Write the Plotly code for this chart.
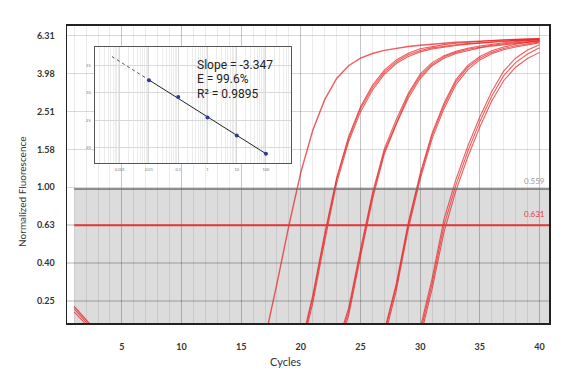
import plotly.graph_objects as go

# ---------------- data ----------------
cycles = list(range(1, 41))

# early baselines (cycle 1 ...), several replicates start slightly above the axis floor
baseline_a = [0.235, 0.2, 0.17, 0.155, 0.15, 0.147, 0.145, 0.144, 0.143, 0.142, 0.142, 0.141, 0.141, 0.14, 0.14,
              0.14, 0.139, 0.139, 0.138, 0.138, 0.137, 0.137, 0.136, 0.136, 0.135, 0.135, 0.134, 0.134, 0.133]
baseline_b = [0.228, 0.196, 0.166, 0.152, 0.147, 0.145, 0.144, 0.143, 0.142, 0.142, 0.141, 0.141, 0.14, 0.14, 0.14,
              0.139, 0.139, 0.138, 0.138, 0.137, 0.137, 0.136, 0.136, 0.135, 0.135, 0.134, 0.134, 0.133, 0.133]
baseline_c = [0.22, 0.19, 0.162, 0.15, 0.145, 0.143, 0.142, 0.141, 0.141, 0.14, 0.14, 0.139, 0.139, 0.139, 0.138,
              0.138, 0.137, 0.137, 0.137, 0.136, 0.136, 0.135, 0.135, 0.134, 0.134, 0.133, 0.133, 0.132, 0.132]
baseline_d = [0.18, 0.16, 0.15, 0.145, 0.142, 0.14, 0.139, 0.138, 0.138, 0.137, 0.137, 0.136, 0.136, 0.136, 0.135,
              0.135, 0.135, 0.134, 0.134, 0.133, 0.133, 0.132, 0.132, 0.131, 0.131, 0.13, 0.13, 0.129, 0.129]

# amplification phase of each replicate (start cycle, values to cycle 40)
g1a_start, g1a = 17, [0.16, 0.31, 0.63, 1.2, 2.0, 2.9, 3.75, 4.38, 4.8, 5.08, 5.28, 5.42, 5.53, 5.62, 5.7, 5.77,
                      5.82, 5.87, 5.91, 5.95, 5.99, 6.02, 6.05, 6.08]
g2a_start, g2a = 20, [0.14, 0.26, 0.55, 1.1, 1.8, 2.6, 3.35, 4.05, 4.6, 5.0, 5.27, 5.44, 5.56, 5.65, 5.73, 5.8,
                      5.86, 5.91, 5.96, 6.0, 6.03]
g2b_start, g2b = 20, [0.135, 0.245, 0.52, 1.05, 1.74, 2.5, 3.25, 3.95, 4.5, 4.9, 5.18, 5.37, 5.5, 5.6, 5.69, 5.77,
                      5.83, 5.88, 5.93, 5.97, 6.0]
g2c_start, g2c = 20, [0.145, 0.27, 0.57, 1.12, 1.85, 2.66, 3.45, 4.15, 4.7, 5.1, 5.38, 5.54, 5.66, 5.75, 5.83, 5.9,
                      5.95, 6.0, 6.04, 6.07, 6.1]
g3a_start, g3a = 23, [0.14, 0.22, 0.45, 0.9, 1.55, 2.2, 3.05, 3.85, 4.45, 4.88, 5.15, 5.35, 5.5, 5.62, 5.72, 5.8,
                      5.87, 5.93]
g3b_start, g3b = 23, [0.13, 0.21, 0.43, 0.86, 1.5, 2.15, 2.95, 3.75, 4.38, 4.8, 5.08, 5.28, 5.44, 5.56, 5.66, 5.75,
                      5.82, 5.88]
g3c_start, g3c = 23, [0.145, 0.23, 0.47, 0.93, 1.6, 2.28, 3.12, 3.95, 4.55, 4.95, 5.22, 5.42, 5.57, 5.69, 5.79,
                      5.87, 5.94, 6.0]
g4a_start, g4a = 27, [0.17, 0.3, 0.63, 1.15, 1.88, 2.7, 3.6, 4.3, 4.8, 5.15, 5.4, 5.58, 5.72, 5.85]
g4b_start, g4b = 27, [0.16, 0.285, 0.6, 1.1, 1.8, 2.6, 3.48, 4.18, 4.7, 5.06, 5.32, 5.5, 5.65, 5.78]
g4c_start, g4c = 27, [0.175, 0.31, 0.65, 1.18, 1.93, 2.78, 3.7, 4.4, 4.9, 5.25, 5.5, 5.68, 5.82, 5.95]
g5a_start, g5a = 30, [0.18, 0.33, 0.68, 1.1, 1.65, 2.35, 3.2, 4.1, 4.8, 5.3, 5.65]
g5b_start, g5b = 30, [0.17, 0.31, 0.63, 1.03, 1.55, 2.22, 3.02, 3.88, 4.55, 5.05, 5.45]
g5c_start, g5c = 30, [0.16, 0.29, 0.58, 0.96, 1.45, 2.08, 2.85, 3.65, 4.3, 4.78, 5.15]

curves = [
    (baseline_a, g1a_start, g1a),
    (baseline_b, g2a_start, g2a), (baseline_d, g2b_start, g2b), (baseline_d, g2c_start, g2c),
    (baseline_c, g3a_start, g3a), (baseline_d, g3b_start, g3b), (baseline_d, g3c_start, g3c),
    (baseline_d, g4a_start, g4a), (baseline_d, g4b_start, g4b), (baseline_d, g4c_start, g4c),
    (baseline_d, g5a_start, g5a), (baseline_d, g5b_start, g5b), (baseline_d, g5c_start, g5c),
]

y_tickvals = [0.2512, 0.3981, 0.631, 1.0, 1.585, 2.512, 3.981, 6.31]
y_ticktext = ["0.25", "0.40", "0.63", "1.00", "1.58", "2.51", "3.98", "6.31"]
x_tickvals = [5, 10, 15, 20, 25, 30, 35, 40]

threshold_gray = 0.98
threshold_red = 0.631
threshold_gray_label = "0.559"
threshold_red_label = "0.631"

# standard curve inset
inset_qty = [0.01, 0.1, 1, 10, 100]
inset_ct = [32.26, 29.2, 25.5, 22.2, 18.9]
fit_dash_x = [0.00054, 0.01]
fit_dash_y = [36.55, 32.3]
fit_solid_x = [0.01, 100]
fit_solid_y = [32.3, 18.9]
inset_xtickvals = [0.001, 0.01, 0.1, 1, 10, 100]
inset_xticktext = ["0.001", "0.01", "0.1", "1", "10", "100"]
inset_ytickvals = [20, 25, 30, 35]
inset_text = ["Slope = -3.347", "E = 99.6%", "R\u00b2 = 0.9895"]

# ---------------- figure ----------------
FONT = "Lato"
fig = go.Figure()

red = "rgba(232,32,32,0.72)"
for i, (base, start, rise) in enumerate(curves):
    yv = base[:start - 1] + rise
    fig.add_trace(go.Scatter(x=cycles, y=yv, mode="lines",
                             line=dict(color=red, width=1.4 if i == 0 else 1.1),
                             hoverinfo="skip", showlegend=False))

# inset traces
fig.add_trace(go.Scatter(x=fit_dash_x, y=fit_dash_y, mode="lines", xaxis="x2", yaxis="y2",
                         line=dict(color="#555", width=1, dash="dot"), showlegend=False, hoverinfo="skip"))
fig.add_trace(go.Scatter(x=fit_solid_x, y=fit_solid_y, mode="lines", xaxis="x2", yaxis="y2",
                         line=dict(color="#222", width=1), showlegend=False, hoverinfo="skip"))
fig.add_trace(go.Scatter(x=inset_qty, y=inset_ct, mode="markers", xaxis="x2", yaxis="y2",
                         marker=dict(color="#2b3a96", size=4), showlegend=False, hoverinfo="skip"))

x_lo, x_hi = 0.4, 40.8

shapes = [
    dict(type="rect", xref="x", yref="y", x0=1, x1=x_hi, y0=0.19, y1=threshold_gray, layer="below",
         line=dict(width=0), fillcolor="#dcdcdc"),
    dict(type="line", xref="x", yref="y", x0=1, x1=x_hi, y0=threshold_gray, y1=threshold_gray,
         line=dict(color="#6e6e6e", width=1.5)),
    dict(type="line", xref="x", yref="y", x0=1, x1=x_hi, y0=threshold_red, y1=threshold_red,
         line=dict(color="#e8383a", width=2)),
]

annotations = [
    dict(text=threshold_gray_label, xref="paper", yref="paper", x=0.996, y=0.4776, xanchor="right",
         yanchor="middle", showarrow=False, font=dict(family=FONT, size=8, color="#9a9a9a")),
    dict(text=threshold_red_label, xref="paper", yref="paper", x=0.996, y=0.3666, xanchor="right",
         yanchor="middle", showarrow=False, font=dict(family=FONT, size=8, color="#e8383a")),
    dict(text="Normalized Fluorescence", xref="paper", yref="paper", x=-0.093, y=0.442, textangle=-90,
         xanchor="center", yanchor="middle", showarrow=False,
         font=dict(family=FONT, size=10, color="#333")),
    dict(text="Cycles", xref="paper", yref="paper", x=0.453, y=-0.128, xanchor="center", yanchor="middle",
         showarrow=False, font=dict(family=FONT, size=11, color="#333")),
]
for txt, yy in zip(inset_text, [0.870, 0.8207, 0.7725]):
    annotations.append(dict(text=txt, xref="paper", yref="paper", x=0.2646, y=yy, xanchor="left",
                            yanchor="middle", showarrow=False,
                            font=dict(family="Roboto", size=12, color="#222")))

fig.update_layout(
    width=587, height=374,
    margin=dict(l=67, r=38, t=26, b=51),
    paper_bgcolor="white", plot_bgcolor="white",
    showlegend=False,
    shapes=shapes, annotations=annotations,
    xaxis=dict(domain=[0, 1], range=[x_lo, x_hi], tickmode="array", tickvals=x_tickvals,
               showgrid=True, gridcolor="rgba(0,0,0,0.16)", gridwidth=1,
               minor=dict(tickmode="linear", tick0=0, dtick=1, showgrid=True,
                          gridcolor="rgba(0,0,0,0.08)", gridwidth=1),
               showline=True, linecolor="#222", linewidth=2, mirror=True, ticks="",
               zeroline=False, ticklabelstandoff=14,
               tickfont=dict(family=FONT, size=9, color="#333", weight="bold")),
    yaxis=dict(domain=[0, 1], type="log", range=[-0.716, 0.851], tickmode="array",
               tickvals=y_tickvals, ticktext=y_ticktext, showgrid=True,
               gridcolor="rgba(0,0,0,0.15)", gridwidth=1.5,
               showline=True, linecolor="#222", linewidth=1.5, mirror=True, ticks="",
               zeroline=False, ticklabelstandoff=9,
               tickfont=dict(family=FONT, size=9, color="#333", weight="bold")),
    xaxis2=dict(domain=[0.0575, 0.464], anchor="y2", type="log", range=[-3.856, 2.844],
                tickmode="array", tickvals=inset_xtickvals, ticktext=inset_xticktext,
                showgrid=True, gridcolor="#d9d9d9", gridwidth=1,
                minor=dict(dtick="D1", showgrid=True, gridcolor="#ececec"),
                showline=True, linecolor="#555", linewidth=1.2, mirror=True, ticks="",
                zeroline=False, ticklabelstandoff=2,
                tickfont=dict(family=FONT, size=4, color="#777")),
    yaxis2=dict(domain=[0.5387, 0.929], anchor="x2", range=[17.22, 38.27],
                tickmode="array", tickvals=inset_ytickvals, showgrid=True,
                gridcolor="#d9d9d9", gridwidth=1,
                showline=True, linecolor="#555", linewidth=1.2, mirror=True, ticks="",
                zeroline=False, ticklabelstandoff=2,
                tickfont=dict(family=FONT, size=4, color="#777")),
)

fig.write_html("out.html", config={"displayModeBar": False, "staticPlot": True},
               post_script="document.body.style.margin='0px';document.body.style.overflow='hidden';")
